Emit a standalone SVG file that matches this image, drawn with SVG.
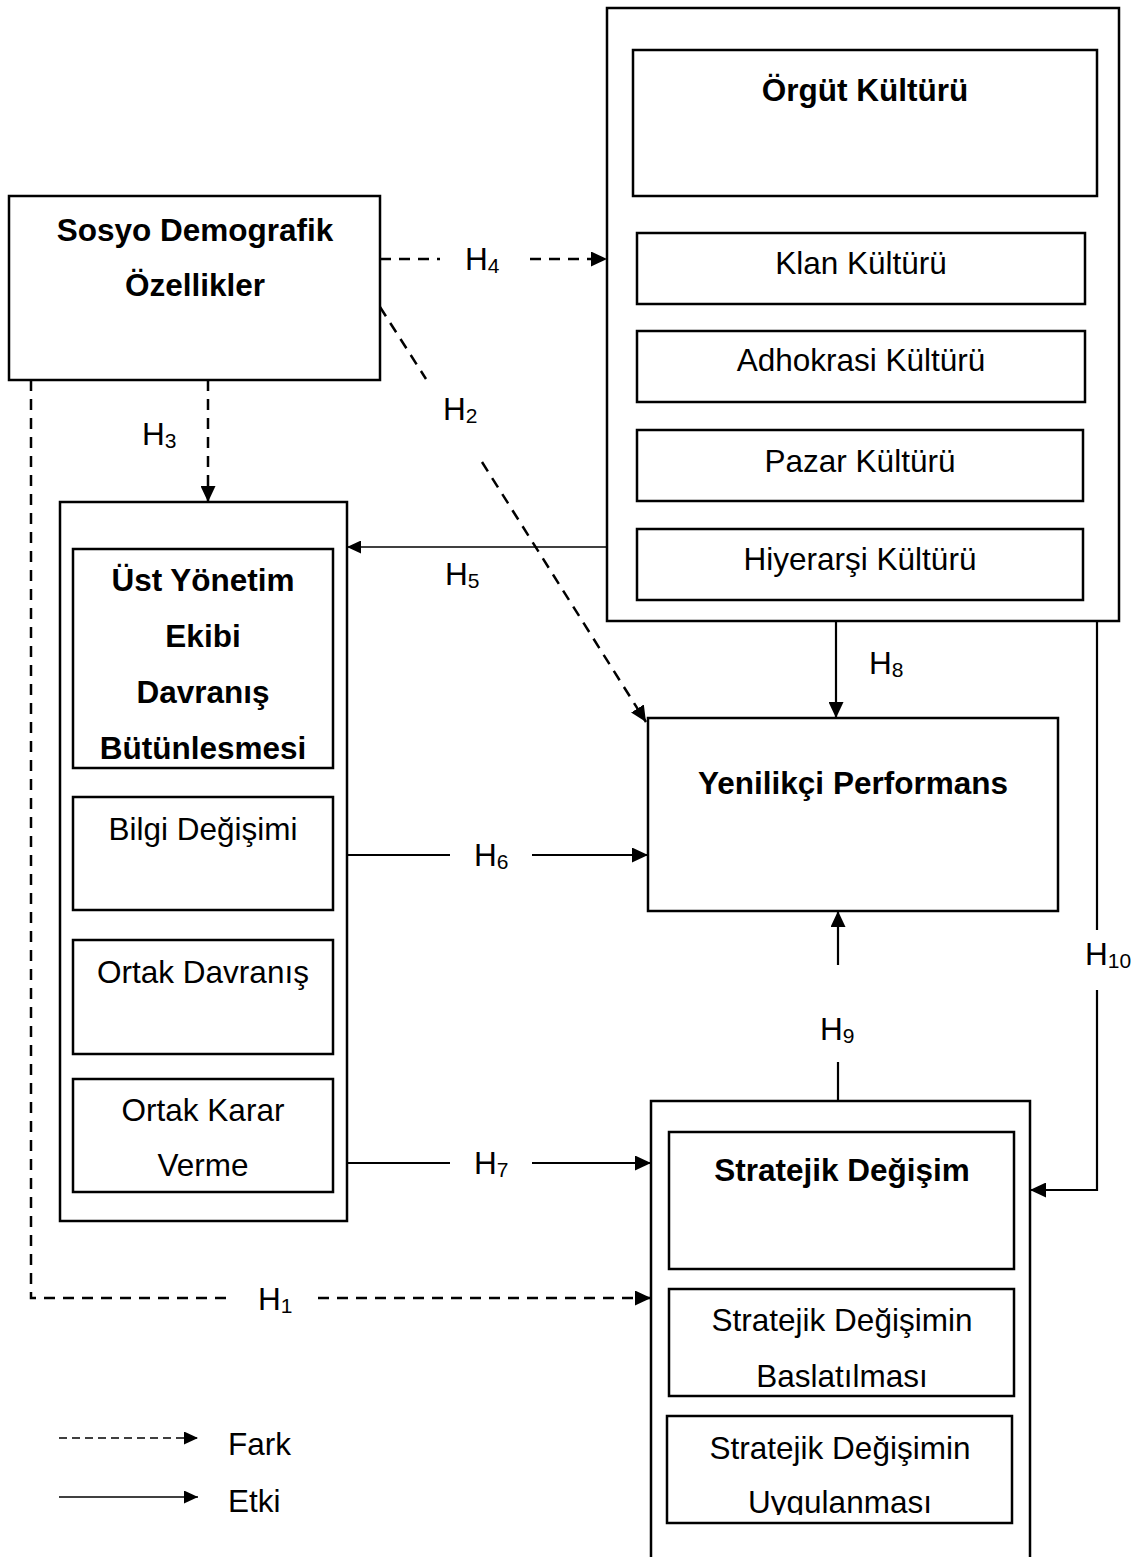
<svg xmlns="http://www.w3.org/2000/svg" width="1141" height="1557" viewBox="0 0 1141 1557">
<style>
.box{fill:#fff;stroke:#000;stroke-width:2.5}
.t{font-family:"Liberation Sans",Arial,sans-serif;font-size:31.5px;fill:#000;text-anchor:middle}
.b{font-weight:bold}
.lab{font-family:"Liberation Sans",Arial,sans-serif;font-size:31.5px;fill:#000}
.sub{font-size:21px}
.c{fill:none;stroke:#000;stroke-width:2.2}
.d{stroke-dasharray:11 8;stroke-width:2.5}
.thin{stroke-width:1.5}
</style>
<defs>
<marker id="ah" markerUnits="userSpaceOnUse" markerWidth="16" markerHeight="15" refX="16" refY="7.5" orient="auto">
<path d="M0,0 L16,7.5 L0,15 z" fill="#000"/>
</marker>
<marker id="ahs" markerUnits="userSpaceOnUse" markerWidth="14" markerHeight="13" refX="14" refY="6.5" orient="auto">
<path d="M0,0 L14,6.5 L0,13 z" fill="#000"/>
</marker>
<clipPath id="clipU"><rect x="667" y="1416" width="345" height="99"/></clipPath>
</defs>
<rect width="1141" height="1557" fill="#fff"/>

<g id="orgut">
<rect class="box" x="607" y="8" width="512" height="613"/>
<rect class="box" x="633" y="50" width="464" height="146"/>
<text class="t b" x="865" y="101">Örgüt Kültürü</text>
<rect class="box" x="637" y="233" width="448" height="71"/>
<text class="t" x="861" y="274">Klan Kültürü</text>
<rect class="box" x="637" y="331" width="448" height="71"/>
<text class="t" x="861" y="371">Adhokrasi Kültürü</text>
<rect class="box" x="637" y="430" width="446" height="71"/>
<text class="t" x="860" y="472">Pazar Kültürü</text>
<rect class="box" x="637" y="529" width="446" height="71"/>
<text class="t" x="860" y="570">Hiyerarşi Kültürü</text>
</g>

<g id="sosyo">
<rect class="box" x="9" y="196" width="371" height="184"/>
<text class="t b" x="195" y="241">Sosyo Demografik</text>
<text class="t b" x="195" y="296">Özellikler</text>
</g>

<g id="ust">
<rect class="box" x="60" y="502" width="287" height="719"/>
<rect class="box" x="73" y="549" width="260" height="219"/>
<text class="t b" x="203" y="591">Üst Yönetim</text>
<text class="t b" x="203" y="647">Ekibi</text>
<text class="t b" x="203" y="703">Davranış</text>
<text class="t b" x="203" y="759">Bütünlesmesi</text>
<rect class="box" x="73" y="797" width="260" height="113"/>
<text class="t" x="203" y="840">Bilgi Değişimi</text>
<rect class="box" x="73" y="940" width="260" height="114"/>
<text class="t" x="203" y="983">Ortak Davranış</text>
<rect class="box" x="73" y="1079" width="260" height="113"/>
<text class="t" x="203" y="1121">Ortak Karar</text>
<text class="t" x="203" y="1176">Verme</text>
</g>

<g id="yenilikci">
<rect class="box" x="648" y="718" width="410" height="193"/>
<text class="t b" x="853" y="794">Yenilikçi Performans</text>
</g>

<g id="stratejik">
<rect class="box" x="651" y="1101" width="379" height="470"/>
<rect class="box" x="669" y="1132" width="345" height="137"/>
<text class="t b" x="842" y="1181">Stratejik Değişim</text>
<rect class="box" x="669" y="1289" width="345" height="107"/>
<text class="t" x="842" y="1331">Stratejik Değişimin</text>
<text class="t" x="842" y="1387">Baslatılması</text>
<rect class="box" x="667" y="1416" width="345" height="107"/>
<text class="t" x="840" y="1459">Stratejik Değişimin</text>
<text class="t" x="840" y="1513" clip-path="url(#clipU)">Uygulanması</text>
</g>

<g id="connectors">
<!-- H4 -->
<line class="c d" x1="380" y1="259" x2="440" y2="259"/>
<line class="c d" x1="530" y1="259" x2="607" y2="259" marker-end="url(#ah)"/>
<!-- H2 -->
<line class="c d" x1="380" y1="307" x2="426" y2="379"/>
<line class="c d" x1="482" y1="462" x2="646" y2="722" marker-end="url(#ah)"/>
<!-- H3 -->
<line class="c d" x1="208" y1="380" x2="208" y2="502" marker-end="url(#ah)"/>
<!-- H1 -->
<polyline class="c d" points="31,380 31,1298 228,1298"/>
<line class="c d" x1="318" y1="1298" x2="651" y2="1298" marker-end="url(#ah)"/>
<!-- H5 -->
<line class="c thin" x1="607" y1="547" x2="347" y2="547" marker-end="url(#ahs)"/>
<!-- H6 -->
<line class="c" x1="347" y1="855" x2="450" y2="855"/>
<line class="c" x1="532" y1="855" x2="648" y2="855" marker-end="url(#ah)"/>
<!-- H7 -->
<line class="c" x1="347" y1="1163" x2="450" y2="1163"/>
<line class="c" x1="532" y1="1163" x2="651" y2="1163" marker-end="url(#ah)"/>
<!-- H8 -->
<line class="c" x1="836" y1="621" x2="836" y2="718" marker-end="url(#ah)"/>
<!-- H9 -->
<line class="c" x1="838" y1="1101" x2="838" y2="1062"/>
<line class="c" x1="838" y1="965" x2="838" y2="911" marker-end="url(#ah)"/>
<!-- H10 -->
<line class="c" x1="1097" y1="621" x2="1097" y2="930"/>
<polyline class="c" points="1097,990 1097,1190 1030,1190" marker-end="url(#ah)"/>
<!-- legend -->
<line class="c" x1="59" y1="1438" x2="198" y2="1438" style="stroke-width:1.3;stroke-dasharray:8 5" marker-end="url(#ahs)"/>
<line class="c" x1="59" y1="1497" x2="198" y2="1497" style="stroke-width:1.5" marker-end="url(#ahs)"/>
</g>

<g id="labels">
<text class="lab" x="465" y="270">H<tspan class="sub" dy="3">4</tspan></text>
<text class="lab" x="443" y="420">H<tspan class="sub" dy="3">2</tspan></text>
<text class="lab" x="142" y="445">H<tspan class="sub" dy="3">3</tspan></text>
<text class="lab" x="445" y="585">H<tspan class="sub" dy="3">5</tspan></text>
<text class="lab" x="474" y="866">H<tspan class="sub" dy="3">6</tspan></text>
<text class="lab" x="474" y="1174">H<tspan class="sub" dy="3">7</tspan></text>
<text class="lab" x="869" y="674">H<tspan class="sub" dy="3">8</tspan></text>
<text class="lab" x="820" y="1040">H<tspan class="sub" dy="3">9</tspan></text>
<text class="lab" x="1085" y="965">H<tspan class="sub" dy="3">10</tspan></text>
<text class="lab" x="258" y="1310">H<tspan class="sub" dy="3">1</tspan></text>
<text class="lab" x="228" y="1455">Fark</text>
<text class="lab" x="228" y="1512">Etki</text>
</g>
</svg>
